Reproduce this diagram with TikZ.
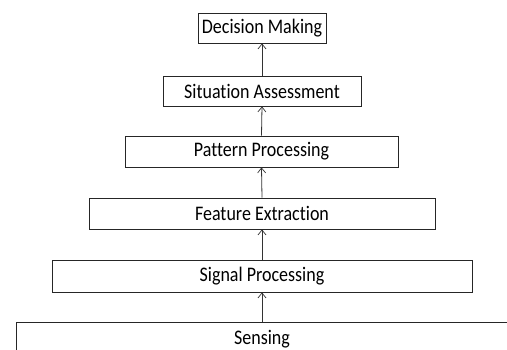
\documentclass[tikz,border=0pt]{standalone}
\usepackage{fontspec}
\setmainfont{Carlito}[Ligatures=NoCommon]
\usetikzlibrary{arrows.meta}
\newcommand\stxt[1]{\scalebox{1}[1.15]{#1}}
\begin{document}
\begin{tikzpicture}[x=1pt,y=1pt,
  box/.style={draw=black!85, line width=0.8pt, rectangle, inner sep=0pt, font=\fontsize{18}{20}\selectfont, text=black},
  conn/.style={draw=black!80, line width=0.8pt, -{Straight Barb[length=5pt,width=8pt,line width=0.7pt]}}]
\useasboundingbox (0,0) rectangle (507,349);
\clip (0,0) rectangle (507,349);
\node[box, minimum width=128, minimum height=30] (dm) at (262,321) {\stxt{Decision Making}};
\node[box, minimum width=198, minimum height=30] (sa) at (262,258) {\stxt{Situation Assessment}};
\node[box, minimum width=273, minimum height=31] (pp) at (261.5,197.5) {\stxt{Pattern Processing}};
\node[box, minimum width=346, minimum height=31] (fe) at (262,135.5) {\stxt{Feature Extraction}};
\node[box, minimum width=420, minimum height=32] (sp) at (262,73) {\stxt{Signal Processing}};
\node[box, minimum width=492, minimum height=34] (se) at (262,10) {\stxt{Sensing}};
\draw[conn] (se.north) -- (sp.south);
\draw[conn] (sp.north) -- (fe.south);
\draw[conn] (fe.north) -- (pp.south);
\draw[conn] (pp.north) -- (sa.south);
\draw[conn] (sa.north) -- (dm.south);
\end{tikzpicture}
\end{document}
